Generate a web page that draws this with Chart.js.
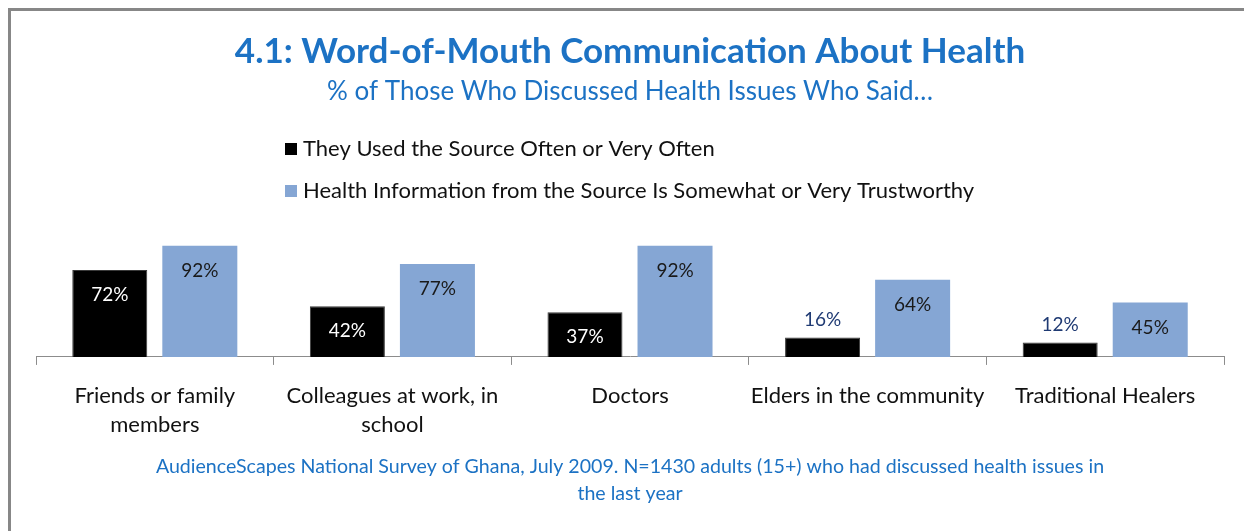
<!DOCTYPE html>
<html>
<head>
<meta charset="utf-8">
<title>Word-of-Mouth Communication About Health</title>
<script src="https://cdn.jsdelivr.net/npm/chart.js@4.4.1/dist/chart.umd.min.js"></script>
<style>
  html, body { margin: 0; padding: 0; background: #fff; overflow: hidden; }
  #wrap { position: relative; width: 1244px; height: 531px; background: #fff; }
  .rule { position: absolute; background: #878787; }
  #chart { position: absolute; left: 0; top: 0; }
</style>
</head>
<body>
<div id="wrap">
  <div class="rule" style="left:8px; top:8px; width:1236px; height:3px;"></div>
  <div class="rule" style="left:8px; top:8px; width:3px; height:523px;"></div>
  <canvas id="chart" width="1244" height="531"></canvas>
</div>
<script>
const categories = [
  ["Friends or family", "members"],
  ["Colleagues at work, in", "school"],
  ["Doctors"],
  ["Elders in the community"],
  ["Traditional Healers"],
];
const seriesNames = [
  "They Used the Source Often or Very Often",
  "Health Information from the Source Is Somewhat or Very Trustworthy",
];
const usedOften   = [72, 42, 37, 16, 12];
const trustworthy = [92, 77, 92, 64, 45];
const footnote = [
  "AudienceScapes National Survey of Ghana, July 2009. N=1430 adults (15+) who had discussed health issues in",
  "the last year",
];

const FONT = "Lato, 'DejaVu Sans', sans-serif";
const BLUE_TEXT = "#1C72C4";

// legend, value labels and source note drawn straight on the canvas
const extras = {
  id: "extras",
  afterDatasetsDraw(chart) {
    const ctx = chart.ctx;
    ctx.save();

    // value labels: inside the top of the bar, or above it when the bar is short
    chart.data.datasets.forEach((ds, i) => {
      chart.getDatasetMeta(i).data.forEach((bar, j) => {
        const h = bar.base - bar.y;
        ctx.font = "19px " + FONT;
        ctx.textAlign = "center";
        ctx.textBaseline = "middle";
        if (h > 30) {
          ctx.fillStyle = i === 0 ? "#ffffff" : "#1a1a1a";
          ctx.fillText(ds.data[j] + "%", bar.x, bar.y + 25);
        } else {
          ctx.fillStyle = "#1F3A73";
          ctx.fillText(ds.data[j] + "%", bar.x, bar.y - 18);
        }
      });
    });

    // legend, stacked vertically
    chart.data.datasets.forEach((ds, i) => {
      const y = 149 + i * 42;
      ctx.fillStyle = ds.backgroundColor;
      ctx.fillRect(285, y - 6, 12, 12);
      ctx.fillStyle = "#111";
      ctx.font = "22px " + FONT;
      ctx.textAlign = "left";
      ctx.textBaseline = "middle";
      ctx.fillText(ds.label, 303, y);
    });

    // source note
    ctx.fillStyle = BLUE_TEXT;
    ctx.font = "19.6px " + FONT;
    ctx.textAlign = "center";
    ctx.textBaseline = "middle";
    footnote.forEach((line, k) => ctx.fillText(line, 630, 467 + k * 27));

    ctx.restore();
  },
};

new Chart(document.getElementById("chart"), {
  type: "bar",
  data: {
    labels: categories,
    datasets: [
      { label: seriesNames[0], data: usedOften, backgroundColor: "#000000",
        borderColor: "#3a3a3a", borderWidth: 1 },
      { label: seriesNames[1], data: trustworthy, backgroundColor: "#85A6D4",
        borderColor: "#85A6D4", borderWidth: 0 },
    ],
  },
  options: {
    responsive: false,
    animation: false,
    categoryPercentage: 0.758,
    barPercentage: 0.833,
    layout: { padding: { left: 36, right: 20, top: 0, bottom: 76 } },
    plugins: {
      legend: { display: false },
      tooltip: { enabled: false },
      title: {
        display: true,
        text: "4.1: Word-of-Mouth Communication About Health",
        color: BLUE_TEXT,
        font: { family: FONT, size: 35, weight: "bold", lineHeight: 1.2 },
        padding: { top: 31, bottom: 3 },
      },
      subtitle: {
        display: true,
        text: "% of Those Who Discussed Health Issues Who Said\u2026",
        color: BLUE_TEXT,
        font: { family: FONT, size: 26, lineHeight: 1.2 },
        padding: { top: 0, bottom: 129 },
      },
    },
    scales: {
      y: { display: false, min: 0, max: 100 },
      x: {
        grid: { offset: true, drawOnChartArea: false, drawTicks: true,
                tickLength: 8, color: "#8c8c8c" },
        border: { display: true, color: "#8c8c8c", width: 1 },
        ticks: {
          color: "#111",
          font: { family: FONT, size: 22, lineHeight: 1.32 },
          padding: 16,
          maxRotation: 0,
          autoSkip: false,
        },
      },
    },
  },
  plugins: [extras],
});
</script>
</body>
</html>
